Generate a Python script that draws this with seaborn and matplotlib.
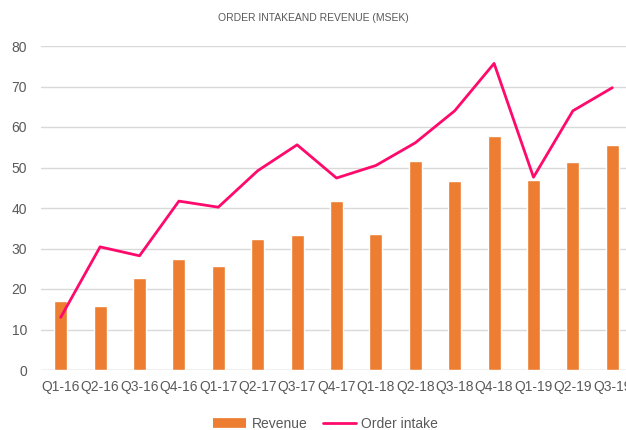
import pandas as pd
import seaborn as sns
import matplotlib.pyplot as plt
from matplotlib.lines import Line2D

quarters = ["Q1-16", "Q2-16", "Q3-16", "Q4-16", "Q1-17", "Q2-17", "Q3-17", "Q4-17",
            "Q1-18", "Q2-18", "Q3-18", "Q4-18", "Q1-19", "Q2-19", "Q3-19"]
revenue = [17.0, 15.7, 22.6, 27.3, 25.8, 32.3, 33.3, 41.8,
           33.5, 51.7, 46.6, 57.7, 47.0, 51.4, 55.5]
order_intake = [13.0, 30.4, 28.2, 41.7, 40.2, 49.2, 55.6, 47.4,
                50.5, 56.1, 64.0, 75.7, 47.6, 64.0, 69.7]

df = pd.DataFrame({"Quarter": quarters, "Revenue": revenue, "Order intake": order_intake})

sns.set_style("white")
plt.rcParams["font.family"] = ["Liberation Sans", "DejaVu Sans"]

bar_color = "#ED7D31"
line_color = "#FF0A6C"
text_color = "#595959"

fig = plt.figure(figsize=(6.26, 4.30), dpi=100)
ax = fig.add_axes([41 / 626, 60 / 430, 591 / 626, 324 / 430])

sns.barplot(data=df, x="Quarter", y="Revenue", color=bar_color, saturation=1,
            width=0.33, ax=ax, zorder=2)
sns.lineplot(data=df, x="Quarter", y="Order intake", color=line_color, linewidth=2,
             sort=False, ax=ax, zorder=3)

ax.set_ylim(0, 80)
ax.set_xlim(-0.5, len(quarters) - 0.5)
ax.set_yticks(range(0, 81, 10))
ax.grid(axis="y", color="#D9D9D9", linewidth=1, zorder=0)
ax.set_axisbelow(True)
for s in ax.spines.values():
    s.set_visible(False)
ax.axhline(0, color="#D9D9D9", linewidth=1, zorder=1)
ax.set_xlabel("")
ax.set_ylabel("")
ax.tick_params(axis="both", length=0, labelsize=10, colors=text_color, pad=7)
ax.tick_params(axis="y", pad=10)

fig.text(0.5, 1 - 18 / 430, "ORDER INTAKEAND REVENUE (MSEK)", ha="center", va="center",
         fontsize=7.5, color=text_color)

handles = [Line2D([], [], color=bar_color, linewidth=7, solid_capstyle="butt"),
           Line2D([], [], color=line_color, linewidth=2)]
fig.legend(handles, ["Revenue", "Order intake"], loc="center", ncol=2,
           bbox_to_anchor=(0.52, 1 - 424 / 430), frameon=False, fontsize=10,
           labelcolor=text_color, handlelength=2.4, columnspacing=1.1, handletextpad=0.4)

plt.savefig("out.png", dpi=100)
